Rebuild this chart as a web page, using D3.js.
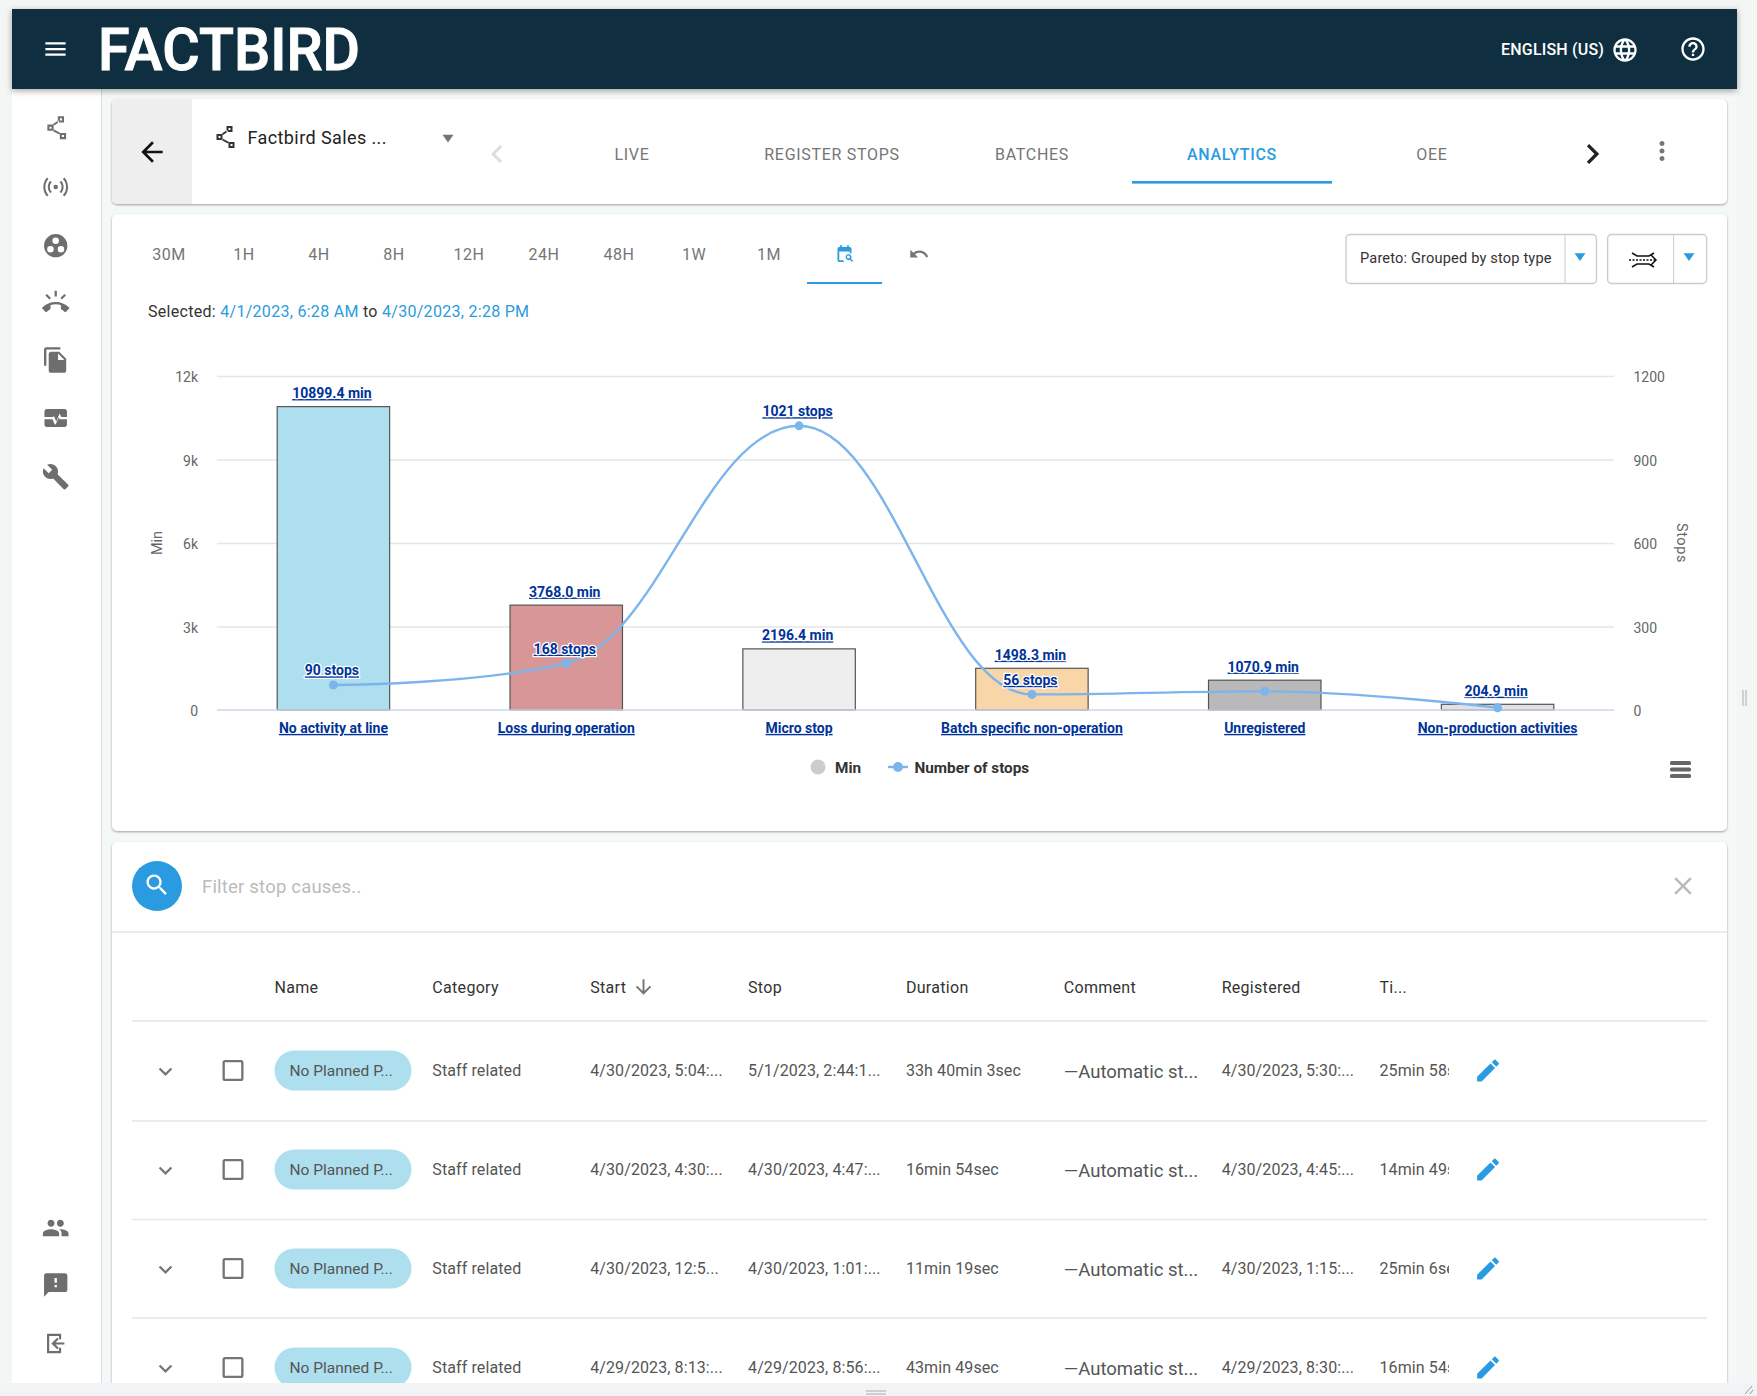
<!DOCTYPE html>
<html>
<head>
<meta charset="utf-8">
<title>Factbird analytics</title>
<script src="https://cdn.jsdelivr.net/npm/d3@7"></script>
<style>
	html,body{margin:0;padding:0;background:#f4f6f6;}
	svg{display:block;font-family:Roboto,sans-serif;}
	.card{filter:drop-shadow(0 1px 1px rgba(0,0,0,.35));}
	.link{fill:#003399;font-weight:700;font-size:14px;text-decoration:underline;}
	.halo{paint-order:stroke;stroke:#fff;stroke-width:2.5px;stroke-linejoin:round;}
</style>
</head>
<body>
<div id="app"></div>
<script>
// chart values
const categories=["No activity at line","Loss during operation","Micro stop","Batch specific non-operation","Unregistered","Non-production activities"];
const minValues=[10899.4,3768.0,2196.4,1498.3,1070.9,204.9];
const stopValues=[90,168,1021,56,67,8];
const stopLabels=[true,true,true,true,false,false];
const minTicks=[0,3000,6000,9000,12000];
const stopTicks=[0,300,600,900,1200];
const barColors=["#aedfee","#d89696","#eeeeee","#f8d6a8","#b9b9b9","#e2e2e2"];

// page texts
const tabs=["LIVE","REGISTER STOPS","BATCHES","ANALYTICS","OEE"];
const ranges=["30M","1H","4H","8H","12H","24H","48H","1W","1M"];
const columns=["Name","Category","Start","Stop","Duration","Comment","Registered","Ti..."];
const rowStart=["4/30/2023, 5:04:...","4/30/2023, 4:30:...","4/30/2023, 12:5...","4/29/2023, 8:13:..."];
const rowStop=["5/1/2023, 2:44:1...","4/30/2023, 4:47:...","4/30/2023, 1:01:...","4/29/2023, 8:56:..."];
const rowDuration=["33h 40min 3sec","16min 54sec","11min 19sec","43min 49sec"];
const rowRegistered=["4/30/2023, 5:30:...","4/30/2023, 4:45:...","4/30/2023, 1:15:...","4/29/2023, 8:30:..."];
const rowTime=["25min 58sec","14min 49sec","25min 6sec","16min 54sec"];

const width=1757;
const height=1396;
const blue="#2a9be0";
const grey="#757575";

// material icon outlines
const icons={
	menu:"M3 18h18v-2H3v2zm0-5h18v-2H3v2zm0-7v2h18V6H3z",
	back:"M20 11H7.83l5.59-5.59L12 4l-8 8 8 8 1.41-1.41L7.83 13H20v-2z",
	globe:"M11.99 2C6.47 2 2 6.48 2 12s4.47 10 9.99 10C17.52 22 22 17.52 22 12S17.52 2 11.99 2zm6.93 6h-2.95c-.32-1.25-.78-2.45-1.38-3.56 1.84.63 3.37 1.91 4.33 3.56zM12 4.04c.83 1.2 1.48 2.53 1.91 3.96h-3.82c.43-1.43 1.08-2.76 1.91-3.96zM4.26 14C4.1 13.36 4 12.69 4 12s.1-1.36.26-2h3.38c-.08.66-.14 1.32-.14 2 0 .68.06 1.34.14 2H4.26zm.82 2h2.95c.32 1.25.78 2.45 1.38 3.56-1.84-.63-3.37-1.9-4.33-3.56zm2.95-8H5.08c.96-1.66 2.49-2.93 4.33-3.56C8.81 5.55 8.35 6.75 8.03 8zM12 19.96c-.83-1.2-1.48-2.53-1.91-3.96h3.82c-.43 1.43-1.08 2.76-1.91 3.96zM14.34 14H9.66c-.09-.66-.16-1.32-.16-2 0-.68.07-1.35.16-2h4.68c.09.65.16 1.32.16 2 0 .68-.07 1.34-.16 2zm.25 5.56c.6-1.11 1.06-2.31 1.38-3.56h2.95c-.96 1.65-2.49 2.93-4.33 3.56zM16.36 14c.08-.66.14-1.32.14-2 0-.68-.06-1.34-.14-2h3.38c.16.64.26 1.31.26 2s-.1 1.36-.26 2h-3.38z",
	help:"M11 18h2v-2h-2v2zm1-16C6.48 2 2 6.48 2 12s4.48 10 10 10 10-4.48 10-10S17.52 2 12 2zm0 18c-4.41 0-8-3.59-8-8s3.59-8 8-8 8 3.59 8 8-3.59 8-8 8zm0-14c-2.21 0-4 1.79-4 4h2c0-1.1.9-2 2-2s2 .9 2 2c0 2-3 1.75-3 5h2c0-2.25 3-2.5 3-5 0-2.21-1.79-4-4-4z",
	people:"M16 11c1.66 0 2.99-1.34 2.99-3S17.66 5 16 5c-1.66 0-3 1.34-3 3s1.34 3 3 3zm-8 0c1.66 0 2.99-1.34 2.99-3S9.66 5 8 5C6.34 5 5 6.34 5 8s1.34 3 3 3zm0 2c-2.33 0-7 1.17-7 3.5V19h14v-2.5c0-2.33-4.67-3.5-7-3.5zm8 0c-.29 0-.62.02-.97.05 1.16.84 1.97 1.97 1.97 3.45V19h6v-2.5c0-2.33-4.67-3.5-7-3.5z",
	feedback:"M20 2H4c-1.1 0-1.99.9-1.99 2L2 22l4-4h14c1.1 0 2-.9 2-2V4c0-1.1-.9-2-2-2zm-7 12h-2v-2h2v2zm0-4h-2V6h2v4z",
	wrench:"M22.7 19l-9.1-9.1c.9-2.3.4-5-1.5-6.9-2-2-5-2.4-7.4-1.3L9 6 6 9 1.6 4.7C.4 7.1.9 10.1 2.9 12.1c1.9 1.9 4.6 2.4 6.9 1.5l9.1 9.1c.4.4 1 .4 1.4 0l2.3-2.3c.5-.4.5-1.1.1-1.4z",
	copy:"M16 1H4c-1.1 0-2 .9-2 2v14h2V3h12V1zm-1 4l6 6v10c0 1.1-.9 2-2 2H7.99C6.89 23 6 22.1 6 21l.01-14c0-1.1.89-2 1.99-2h7zm-1 7h5.5L14 6.5V12z",
	ring:"M23.71 16.67C20.66 13.78 16.54 12 12 12 7.46 12 3.34 13.78.29 16.67c-.18.18-.29.43-.29.71 0 .28.11.53.29.71l2.48 2.48c.18.18.43.29.71.29.27 0 .52-.11.7-.28.79-.74 1.69-1.36 2.66-1.85.33-.16.56-.5.56-.9v-3.1c1.45-.48 3-.73 4.6-.73s3.15.25 4.6.72v3.1c0 .39.23.74.56.9.98.49 1.87 1.12 2.66 1.85.18.18.43.28.7.28.28 0 .53-.11.71-.29l2.48-2.48c.18-.18.29-.43.29-.71 0-.27-.11-.52-.29-.7zM21.16 6.26l-1.41-1.41-3.56 3.55 1.41 1.41s3.45-3.52 3.56-3.55zM13 2h-2v5h2V2zM6.4 9.81L7.81 8.4 4.26 4.84 2.84 6.26c.11.03 3.56 3.55 3.56 3.55z",
	pencil:"M3 17.25V21h3.75L17.81 9.94l-3.75-3.75L3 17.25zM20.71 7.04c.39-.39.39-1.02 0-1.41l-2.34-2.34c-.39-.39-1.02-.39-1.41 0l-1.83 1.83 3.75 3.75 1.83-1.83z",
	search:"M15.5 14h-.79l-.28-.27C15.41 12.59 16 11.11 16 9.5 16 5.91 13.09 3 9.5 3S3 5.91 3 9.5 5.91 16 9.5 16c1.61 0 3.09-.59 4.23-1.57l.27.28v.79l5 4.99L20.49 19l-4.99-5zm-6 0C7.01 14 5 11.99 5 9.5S7.01 5 9.5 5 14 7.01 14 9.5 11.99 14 9.5 14z",
	undo:"M12.5 8c-2.65 0-5.05.99-6.9 2.6L2 7v9h9l-3.62-3.62c1.39-1.16 3.16-1.88 5.12-1.88 3.54 0 6.55 2.31 7.6 5.5l2.37-.78C21.08 11.03 17.15 8 12.5 8z",
	expand:"M16.59 8.59L12 13.17 7.41 8.59 6 10l6 6 6-6z",
	box:"M19 5v14H5V5h14m0-2H5c-1.1 0-2 .9-2 2v14c0 1.1.9 2 2 2h14c1.1 0 2-.9 2-2V5c0-1.1-.9-2-2-2z",
	right:"M10 6L8.59 7.41 13.17 12l-4.58 4.59L10 18l6-6z",
	left:"M15.41 7.41L14 6l-6 6 6 6 1.41-1.41L10.83 12z",
	close:"M19 6.41L17.59 5 12 10.59 6.41 5 5 6.41 10.59 12 5 17.59 6.41 19 12 13.41 17.59 19 19 17.59 13.41 12z",
	down:"M20 12l-1.41-1.41L13 16.17V4h-2v12.17l-5.58-5.59L4 12l8 8 8-8z",
	vert:"M12 8c1.1 0 2-.9 2-2s-.9-2-2-2-2 .9-2 2 .9 2 2 2zm0 2c-1.1 0-2 .9-2 2s.9 2 2 2 2-.9 2-2-.9-2-2-2zm0 6c-1.1 0-2 .9-2 2s.9 2 2 2 2-.9 2-2-.9-2-2-2z",
	nodes:"M14 1h6v6h-6V1zm2 2v2h2V3h-2zM4 9h6v6H4V9zm2 2v2h2v-2H6zm10 6h6v6h-6v-6zm2 2v2h2v-2h-2zM9.500 8.500l5-3.500 1 1.500-5 3.500-1-1.500zM10 13.500l6.500 3.500-1 1.600-6.500-3.500 1-1.600z",
	balls:"M12 2a10 10 0 1 0 0 20 10 10 0 0 0 0-20zM12 5a2.800 2.800 0 1 1 0 5.600A2.800 2.800 0 0 1 12 5zM7.500 12.200a2.800 2.800 0 1 1 0 5.600 2.800 2.800 0 0 1 0-5.600zM16.500 12.200a2.800 2.800 0 1 1 0 5.600 2.800 2.800 0 0 1 0-5.600z",
	pulse:"M4 4h16c1.100 0 2 .9 2 2v5h-5l-1.500-3-3 7-2-4.500-1 .5H2V6c0-1.100.9-2 2-2zM2 13h7.200l1.900 4.500.9.2 2.600-6.200.9 1.500H22v5c0 1.100-.9 2-2 2H4c-1.100 0-2-.9-2-2v-5z",
	signal:"M12 10a2 2 0 1 0 0 4 2 2 0 0 0 0-4zM7.200 6.500C5.700 8 5 9.900 5 12s.7 4 2.200 5.500l1.300-1.300C7.300 15 6.800 13.700 6.800 12S7.300 9 8.500 7.800zM16.800 6.500l-1.300 1.300c1.200 1.200 1.700 2.500 1.700 4.200s-.5 3-1.700 4.200l1.300 1.300C18.300 16 19 14.100 19 12s-.7-4-2.200-5.500zM4.300 3.500C2.100 5.800 1 8.800 1 12s1.100 6.200 3.300 8.500l1.300-1.300C3.700 17.200 2.800 14.800 2.800 12s.9-5.200 2.800-7.200zM19.700 3.500l-1.300 1.300c1.900 2 2.800 4.400 2.800 7.200s-.9 5.200-2.800 7.200l1.300 1.300C21.900 18.200 23 15.200 23 12s-1.100-6.200-3.300-8.500z",
	exit:"M4 3h13v5h-2V5H6v14h9v-3h2v5H4V3zM20 11v2h-8.200l3 3-1.400 1.400L8 12l5.400-5.400L14.800 8l-3 3z",
	calendar:"M7 2h2v2h6V2h2v2h1c1.100 0 2 .9 2 2v5h-2V9H6v10h5v2H6c-1.100 0-2-.9-2-2V6c0-1.100.9-2 2-2h1V2zM16.500 12a3.500 3.500 0 0 1 2.900 5.500l2.300 2.300-1.200 1.200-2.300-2.300A3.500 3.500 0 1 1 16.500 12zm0 1.800a1.700 1.700 0 1 0 0 3.400 1.700 1.700 0 0 0 0-3.400z"
};

const svg=d3.select("#app").append("svg")
	.attr("width",width)
	.attr("height",height)
	.attr("viewBox",[0,0,width,height]);

function icon(name,cx,cy,size,color,parent){
	return (parent||svg).append("path")
		.attr("d",icons[name])
		.attr("fill",color)
		.attr("fill-rule","evenodd")
		.attr("transform",`translate(${cx-size/2},${cy-size/2}) scale(${size/24})`);
}

function label(x,y,txt,size,color,anchor,parent){
	return (parent||svg).append("text")
		.attr("x",x)
		.attr("y",y)
		.attr("dy","0.35em")
		.attr("font-size",size)
		.attr("fill",color)
		.attr("text-anchor",anchor||"start")
		.text(txt);
}

function triangle(cx,cy,size,color){
	svg.append("path")
		.attr("d",`M${cx-size},${cy-size*0.6}h${size*2}l${-size},${size*1.4}z`)
		.attr("fill",color);
}

function card(x,y,w,h){
	svg.append("rect")
		.attr("class","card")
		.attr("x",x).attr("y",y)
		.attr("width",w).attr("height",h)
		.attr("rx",5)
		.attr("fill","#fff");
}

// background
svg.append("rect").attr("x",12).attr("y",89).attr("width",1725).attr("height",1294).attr("fill","#f5f8f8");
svg.append("rect").attr("x",12).attr("y",89).attr("width",90).attr("height",1294).attr("fill","#fff");
svg.append("line").attr("x1",101.5).attr("x2",101.5).attr("y1",89).attr("y2",1383).attr("stroke","#dcdcdc");

card(112,99,1615,105);
card(112,214,1615,617);
card(112,842,1615,560);

// header
svg.append("rect")
	.attr("x",12).attr("y",9)
	.attr("width",1725).attr("height",80)
	.attr("fill","#0f2f41")
	.style("filter","drop-shadow(0 2px 3px rgba(0,0,0,.35))");
icon("menu",55.5,49,27,"#fff");
svg.append("text")
	.attr("x",98).attr("y",70)
	.attr("font-size",59)
	.attr("font-weight",500)
	.attr("fill","#fff")
	.attr("stroke","#fff")
	.attr("stroke-width",1)
	.attr("textLength",262)
	.attr("lengthAdjust","spacingAndGlyphs")
	.text("FACTBIRD");
label(1501,49.5,"ENGLISH (US)",16,"#fff").attr("font-weight",500).attr("letter-spacing","0.2px");
icon("globe",1625,50,28,"#fff");
icon("help",1693,49,28,"#fff");

// side bar
[["nodes",127.7,25],["signal",187,27],["balls",245.7,28],["ring",302,27],["copy",360,28],["pulse",418,27],["wrench",476.7,28],["people",1228,28],["feedback",1285,28],["exit",1343.5,26]]
	.forEach(d=>icon(d[0],55.7,d[1],d[2],"#6e6e6e"));

// machine bar
svg.append("path")
	.attr("d","M192,99H117a5,5 0 0 0 -5,5V199a5,5 0 0 0 5,5H192z")
	.attr("fill","#eeeeee");
icon("back",152,152,32,"#111");
icon("nodes",224.5,137,24,"#333");
label(247.5,138,"Factbird Sales ...",18,"#222").attr("letter-spacing","0.4px");
triangle(448,138,5.5,"#757575");
icon("left",497,154,36,"#dddddd");
icon("right",1592.5,154,40,"#222");
icon("vert",1662,151,30,grey);

const tabScale=d3.scalePoint().domain(tabs).range([632,1432]);
tabs.forEach(t=>{
	label(tabScale(t),154,t,16,t==="ANALYTICS"?blue:grey,"middle")
		.attr("font-weight",t==="ANALYTICS"?500:400)
		.attr("letter-spacing","0.7px");
});
svg.append("rect").attr("x",1132).attr("y",181).attr("width",200).attr("height",2.6).attr("fill",blue);

// range bar
const rangeScale=d3.scalePoint().domain(ranges).range([169,769]);
ranges.forEach(r=>{
	label(rangeScale(r),254,r,16,grey,"middle").attr("letter-spacing","0.5px");
});
icon("calendar",844.5,254,21,blue);
icon("undo",919,254,21,grey);
svg.append("rect").attr("x",807).attr("y",282).attr("width",75).attr("height",2).attr("fill",blue);

const selected=label(148,311.5,"",16,"#333").attr("letter-spacing","0.29px");
selected.append("tspan").text("Selected: ");
selected.append("tspan").attr("fill",blue).text("4/1/2023, 6:28 AM");
selected.append("tspan").text(" to ");
selected.append("tspan").attr("fill",blue).text("4/30/2023, 2:28 PM");

[[1346,250.5,1565,1580],[1607.6,99,1673.6,1689]].forEach(d=>{
	svg.append("rect")
		.attr("x",d[0]).attr("y",234.5)
		.attr("width",d[1]).attr("height",49)
		.attr("rx",4)
		.attr("fill","#fff")
		.attr("stroke","#cccccc")
		.attr("stroke-width",1.4);
	svg.append("line")
		.attr("x1",d[2]).attr("x2",d[2])
		.attr("y1",234.5).attr("y2",283.5)
		.attr("stroke","#cccccc");
	triangle(d[3],256.5,5.5,blue);
});
label(1360,258,"Pareto: Grouped by stop type",14.6,"#333").attr("letter-spacing","0.16px");

const lineIcon=svg.append("g").attr("fill","none").attr("stroke","#111").attr("stroke-width",1.5);
lineIcon.append("path").attr("d","M1632,253l5,3h12l5,-3M1632,267l5,-3h12l5,3");
lineIcon.append("path").attr("d","M1629,260h27").attr("stroke-dasharray","2 1.5");
lineIcon.append("path").attr("d","M1651,255l5,5l-5,5");

// chart
const x=d3.scaleBand().domain(categories).range([217,1614]).paddingInner(0.517).paddingOuter(0.2585);
const yMin=d3.scaleLinear().domain([0,12000]).range([710,376]);
const yStops=d3.scaleLinear().domain([0,1200]).range([710,376]);

const grid=svg.append("g")
	.attr("transform","translate(217,0)")
	.call(d3.axisLeft(yMin).tickValues(minTicks.slice(1)).tickSize(-1397).tickFormat(""));
grid.select(".domain").remove();
grid.selectAll("line").attr("stroke","#e6e6e6").attr("stroke-width",1.5);

const leftAxis=svg.append("g")
	.attr("transform","translate(198,0)")
	.call(d3.axisLeft(yMin).tickValues(minTicks).tickSize(0).tickPadding(0).tickFormat(d=>d===0?"0":d/1000+"k"));
const rightAxis=svg.append("g")
	.attr("transform","translate(1633.5,0)")
	.call(d3.axisRight(yStops).tickValues(stopTicks).tickSize(0).tickPadding(0).tickFormat(d=>String(d)));
[leftAxis,rightAxis].forEach(a=>{
	a.select(".domain").remove();
	a.selectAll("text")
		.attr("font-family","Roboto,sans-serif")
		.attr("font-size",14)
		.attr("fill","#666")
		.attr("dy","0.4em");
});

svg.append("text")
	.attr("transform","translate(157,543) rotate(-90)")
	.attr("dy","0.35em")
	.attr("text-anchor","middle")
	.attr("font-size",14.5)
	.attr("fill","#666")
	.text("Min");
svg.append("text")
	.attr("transform","translate(1682,543) rotate(90)")
	.attr("dy","0.35em")
	.attr("text-anchor","middle")
	.attr("font-size",14.5)
	.attr("letter-spacing","0.6px")
	.attr("fill","#666")
	.text("Stops");

svg.append("g")
	.selectAll("rect")
	.data(categories)
	.join("rect")
	.attr("x",d=>x(d))
	.attr("y",(d,i)=>yMin(minValues[i]))
	.attr("width",x.bandwidth())
	.attr("height",(d,i)=>yMin(0)-yMin(minValues[i]))
	.attr("fill",(d,i)=>barColors[i])
	.attr("stroke","#555")
	.attr("stroke-width",1.2);

svg.append("line")
	.attr("x1",217).attr("x2",1614)
	.attr("y1",yMin(0)).attr("y2",yMin(0))
	.attr("stroke","#ccd6eb")
	.attr("stroke-width",1.5);

const bottomAxis=svg.append("g")
	.attr("transform",`translate(0,${yMin(0)})`)
	.call(d3.axisBottom(x).tickSize(0).tickPadding(0));
bottomAxis.select(".domain").remove();
bottomAxis.selectAll("text")
	.attr("class","link")
	.attr("font-family","Roboto,sans-serif")
	.attr("y",18)
	.attr("dy","0.35em");

// spline with the horizontal tangents at the turning points
function splinePath(pts){
	const s=1.5, den=2.5;
	const conts=pts.map((p,i)=>{
		if(i===0||i===pts.length-1) return null;
		const a=pts[i-1], b=pts[i+1];
		const lx=(s*p[0]+a[0])/den, rx=(s*p[0]+b[0])/den;
		let ly=(s*p[1]+a[1])/den, ry=(s*p[1]+b[1])/den;
		const c=((ry-ly)*(rx-p[0]))/(rx-lx)+p[1]-ry;
		ly+=c; ry+=c;
		if(ly>a[1]&&ly>p[1]){ ly=Math.max(a[1],p[1]); ry=2*p[1]-ly; }
		else if(ly<a[1]&&ly<p[1]){ ly=Math.min(a[1],p[1]); ry=2*p[1]-ly; }
		if(ry>b[1]&&ry>p[1]){ ry=Math.max(b[1],p[1]); ly=2*p[1]-ry; }
		else if(ry<b[1]&&ry<p[1]){ ry=Math.min(b[1],p[1]); ly=2*p[1]-ry; }
		return {lx,ly,rx,ry};
	});
	const path=d3.path();
	path.moveTo(pts[0][0],pts[0][1]);
	for(let i=1;i<pts.length;i++){
		const from=conts[i-1], to=conts[i];
		path.bezierCurveTo(
			from?from.rx:pts[i-1][0], from?from.ry:pts[i-1][1],
			to?to.lx:pts[i][0], to?to.ly:pts[i][1],
			pts[i][0], pts[i][1]);
	}
	return path.toString();
}

const center=d=>x(d)+x.bandwidth()/2;
const linePoints=categories.map((d,i)=>[center(d),yStops(stopValues[i])]);

svg.append("path")
	.attr("d",splinePath(linePoints))
	.attr("fill","none")
	.attr("stroke","#7cb5ec")
	.attr("stroke-width",2.4);

svg.append("g")
	.selectAll("circle")
	.data(categories)
	.join("circle")
	.attr("cx",d=>center(d))
	.attr("cy",(d,i)=>yStops(stopValues[i]))
	.attr("r",4.5)
	.attr("fill","#7cb5ec");

svg.append("g")
	.selectAll("text")
	.data(categories)
	.join("text")
	.attr("class","link halo")
	.attr("x",d=>center(d)-1.5)
	.attr("y",(d,i)=>yMin(minValues[i])-13.5)
	.attr("dy","0.35em")
	.attr("text-anchor","middle")
	.text((d,i)=>minValues[i].toFixed(1)+" min");

svg.append("g")
	.selectAll("text")
	.data(categories.filter((d,i)=>stopLabels[i]))
	.join("text")
	.attr("class","link halo")
	.attr("x",d=>center(d)-1.5)
	.attr("y",d=>yStops(stopValues[categories.indexOf(d)])-14.5)
	.attr("dy","0.35em")
	.attr("text-anchor","middle")
	.text(d=>stopValues[categories.indexOf(d)]+" stops");

// legend
svg.append("circle").attr("cx",818).attr("cy",767).attr("r",7.5).attr("fill","#cccccc");
label(835,768,"Min",15.3,"#333").attr("font-weight",700);
svg.append("line").attr("x1",888).attr("x2",908).attr("y1",767).attr("y2",767).attr("stroke","#7cb5ec").attr("stroke-width",2.4);
svg.append("circle").attr("cx",898).attr("cy",767).attr("r",5).attr("fill","#7cb5ec");
label(914.5,768,"Number of stops",15.3,"#333").attr("font-weight",700);

svg.append("g")
	.selectAll("rect")
	.data([761,767.5,774])
	.join("rect")
	.attr("x",1670).attr("y",d=>d)
	.attr("width",21).attr("height",4)
	.attr("rx",1.5)
	.attr("fill","#666");

// search row
svg.append("ellipse").attr("cx",157).attr("cy",886).attr("rx",25).attr("ry",25).attr("fill",blue);
icon("search",157,885,28,"#fff");
label(202,887,"Filter stop causes..",18.5,"#bbbbbb").attr("letter-spacing","0.2px");
icon("close",1683,886,30,"#bbbbbb");
svg.append("line").attr("x1",112).attr("x2",1727).attr("y1",932).attr("y2",932).attr("stroke","#e6e6e6").attr("stroke-width",1.5);

// table
const colX=d3.scalePoint().domain(columns).range([274.5,1379.5]);
const rowY=d3.scaleLinear().domain([0,3]).range([1070.5,1367.5]);
const lineY=[1021,1121,1219.5,1318];

const table=svg.append("g").attr("clip-path","url(#tableClip)");
svg.append("clipPath").attr("id","tableClip").append("rect").attr("x",112).attr("y",932).attr("width",1615).attr("height",451);
svg.append("clipPath").attr("id","timeClip").append("rect").attr("x",1379).attr("y",1030).attr("width",70).attr("height",353);

columns.forEach(c=>{
	label(colX(c),987,c,16,"#333",null,table).attr("letter-spacing","0.3px");
});
icon("down",643.5,987,23,grey,table);

table.selectAll("line")
	.data(lineY)
	.join("line")
	.attr("x1",132).attr("x2",1707)
	.attr("y1",d=>d).attr("y2",d=>d)
	.attr("stroke","#e6e6e6")
	.attr("stroke-width",1.5);

rowStart.forEach((d,i)=>{
	const y=rowY(i);
	icon("expand",165.5,y+1,27,grey,table);
	icon("box",233,y,28,grey,table);
	table.append("rect")
		.attr("x",274.5).attr("y",y-20)
		.attr("width",137).attr("height",40)
		.attr("rx",20)
		.attr("fill","#aedfee");
	label(289.5,y,"No Planned P...",15.5,"#555",null,table);
	label(colX("Category"),y,"Staff related",16,"#555",null,table).attr("letter-spacing","0.1px");
	label(colX("Start"),y,d,16,"#555",null,table).attr("letter-spacing","0.1px");
	label(colX("Stop"),y,rowStop[i],16,"#555",null,table).attr("letter-spacing","0.1px");
	label(colX("Duration"),y,rowDuration[i],16,"#555",null,table).attr("letter-spacing","0.1px");
	label(colX("Comment"),y+1,"—Automatic st...",18.5,"#555",null,table);
	label(colX("Registered"),y,rowRegistered[i],16,"#555",null,table).attr("letter-spacing","0.1px");
	label(colX("Ti..."),y,rowTime[i],16,"#555",null,table)
		.attr("letter-spacing","0.1px")
		.attr("clip-path","url(#timeClip)");
	icon("pencil",1488,y,29,blue,table);
});

// window strip at the bottom
svg.append("rect").attr("x",0).attr("y",1383).attr("width",width).attr("height",13).attr("fill","#f1f3f4");
svg.append("path").attr("d","M866,1391h20M866,1394h20").attr("stroke","#aaa");
svg.append("path").attr("d","M1745,1394l7,-8M1750,1394l3,-4").attr("stroke","#999");
svg.append("path").attr("d","M1743,690v16M1746,690v16").attr("stroke","#aaa");
</script>
</body>
</html>
